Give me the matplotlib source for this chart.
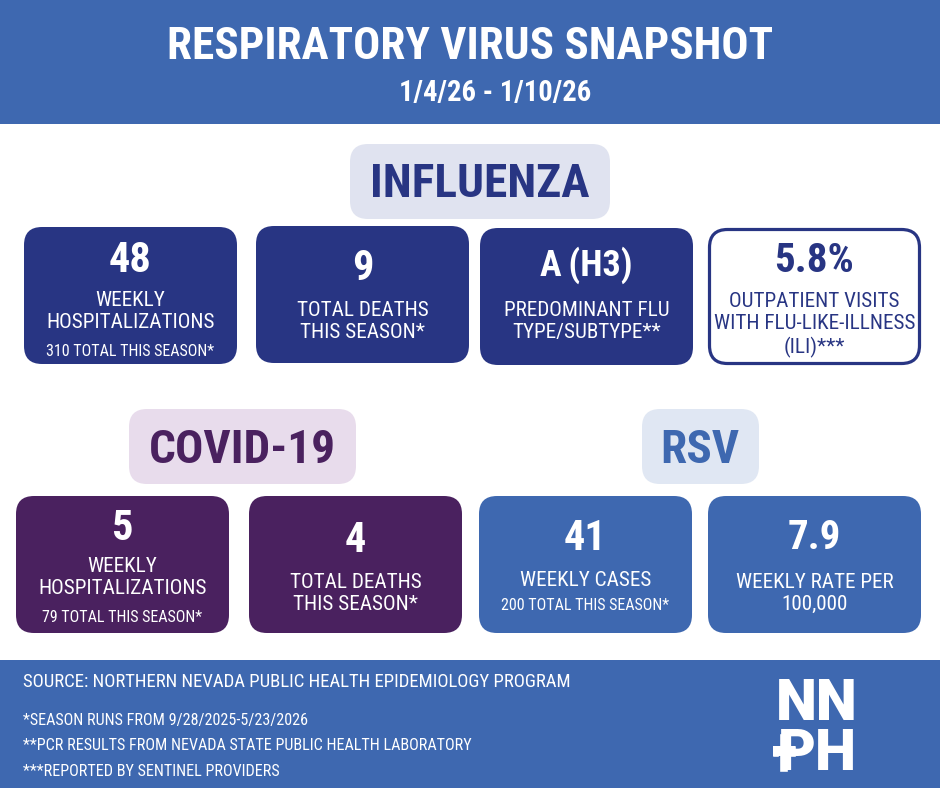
import matplotlib
matplotlib.use("Agg")
import matplotlib.pyplot as plt
from matplotlib.patches import FancyBboxPatch, Rectangle

BLUE = "#3e68b0"
NAVY = "#283583"
PURPLE = "#4a215f"
FONT = "Roboto Condensed"

title_text = "RESPIRATORY VIRUS SNAPSHOT"
date_text = "1/4/26 - 1/10/26"
section_names = ["INFLUENZA", "COVID-19", "RSV"]
big_values = ["48", "9", "A\u2009(H3)", "5.8%", "5", "4", "41", "7.9"]
value_sizes = [30.5, 30.5, 26, 29.5, 30.5, 30.5, 30.5, 29.5]
card_labels = [
    "WEEKLY\nHOSPITALIZATIONS", "TOTAL DEATHS\nTHIS SEASON*",
    "PREDOMINANT FLU\nTYPE/SUBTYPE**",
    "OUTPATIENT VISITS\nWITH FLU-LIKE-ILLNESS\n(ILI)***",
    "WEEKLY\nHOSPITALIZATIONS", "TOTAL DEATHS\nTHIS SEASON*",
    "WEEKLY CASES", "WEEKLY RATE PER\n100,000",
]
season_totals = ["310 TOTAL THIS SEASON*", "", "", "", "79 TOTAL THIS SEASON*", "", "200 TOTAL THIS SEASON*", ""]
footer_lines = [
    "SOURCE: NORTHERN NEVADA PUBLIC HEALTH EPIDEMIOLOGY PROGRAM",
    "*SEASON RUNS FROM 9/28/2025-5/23/2026",
    "**PCR RESULTS FROM NEVADA STATE PUBLIC HEALTH LABORATORY",
    "***REPORTED BY SENTINEL PROVIDERS",
]
logo_lines = ["NN", "PH"]

fig = plt.figure(figsize=(9.4, 7.88), dpi=100)
ax = fig.add_axes([0, 0, 1, 1])
ax.set_xlim(0, 940)
ax.set_ylim(788, 0)
ax.axis("off")


def box(x0, y0, x1, y1, color, r=18, edge=None, lw=0):
    ax.add_patch(FancyBboxPatch((x0 + r, y0 + r), x1 - x0 - 2 * r, y1 - y0 - 2 * r,
                                boxstyle="round,pad=%d,rounding_size=%d" % (r, r),
                                fc=color, ec=edge or "none", lw=lw))


def label(x, y, s, size, color="white", weight="normal", ha="center", ls=1.2, family=FONT):
    ax.text(x, y, s, fontsize=size, color=color, fontweight=weight, ha=ha, va="center",
            family=family, linespacing=ls)


# header and footer bands
ax.add_patch(Rectangle((0, 0), 940, 124, fc=BLUE, ec="none"))
ax.add_patch(Rectangle((0, 660), 940, 128, fc=BLUE, ec="none"))
label(470, 47, title_text, 32.5, weight="bold")
label(495.5, 93, date_text, 20.6, weight="bold")

# section pills
box(350, 144, 610, 219, "#e0e3f0")
box(129, 409, 356, 484, "#e8dcec")
box(642, 409, 759, 484, "#e0e7f3")
label(480, 184, section_names[0], 34, NAVY, "bold")
label(242, 450, section_names[1], 34, PURPLE, "bold")
label(700, 450, section_names[2], 34, BLUE, "bold")

# cards: x0, y0, x1, y1, color, value y, label y, total y
cards = [
    (24, 227, 237, 364, NAVY, 260, 311, 351),
    (256, 226, 469, 363, NAVY, 268, 321, 0),
    (480, 228, 693, 365, NAVY, 265, 321, 0),
    (709.5, 229.5, 919.5, 363.5, "white", 261, 325, 0),
    (16, 496, 229, 633, PURPLE, 528, 578, 617),
    (249, 496, 462, 633, PURPLE, 540, 594, 0),
    (479, 496, 692, 633, BLUE, 538, 580, 606),
    (708, 496, 921, 633, BLUE, 538, 593, 0),
]
for i, (x0, y0, x1, y1, color, vy, ly, ty) in enumerate(cards):
    outlined = color == "white"
    box(x0, y0, x1, y1, color, edge=NAVY if outlined else None, lw=2.3 if outlined else 0)
    fg = NAVY if outlined else "white"
    xc = (x0 + x1) / 2
    label(xc, vy, big_values[i], value_sizes[i], fg, "bold")
    label(xc, ly, card_labels[i], 15.2, fg)
    if season_totals[i]:
        label(xc, ty, season_totals[i], 11.5, fg)

# footer text
label(23, 682, footer_lines[0], 13.5, ha="left")
label(23, 721, footer_lines[1], 11.6, ha="left")
label(23, 746, footer_lines[2], 11.6, ha="left")
label(23, 772, footer_lines[3], 11.6, ha="left")

# logo
label(817, 705, logo_lines[0], 42, weight="black", family="Roboto")
label(817, 755, logo_lines[1], 42, weight="black", family="Roboto")
ax.add_patch(Rectangle((772, 745), 24, 12, fc="white", ec=BLUE, lw=1))
ax.add_patch(Rectangle((779, 733), 9, 39, fc="white", ec=BLUE, lw=1))
ax.add_patch(Rectangle((773, 746), 22, 10, fc="white", ec="none"))

fig.savefig("out.png", dpi=100)
